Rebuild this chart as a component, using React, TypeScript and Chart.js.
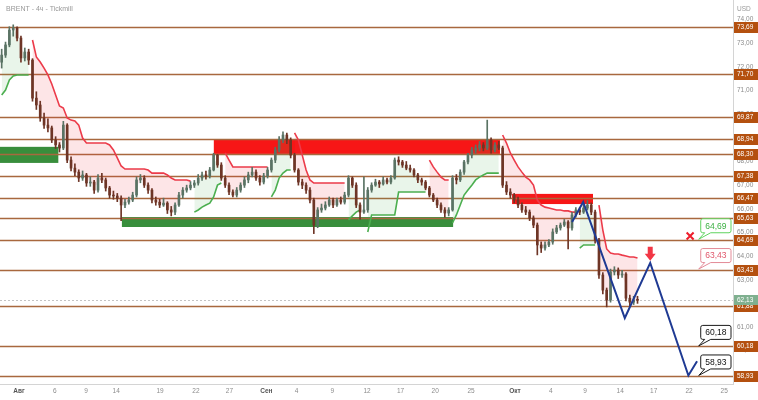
import React, { useEffect, useRef } from 'react';
import { Chart, registerables } from 'chart.js';

Chart.register(...registerables);

const FONT = '"Liberation Sans", Arial, sans-serif';
const TITLE = 'BRENT - 4ч - Tickmill';
const CURRENCY = 'USD';

// 3 bars per trading day, day 0 = 1 Aug
const FIRST_BAR_DAY = -1.5;
const BARS_PER_DAY = 3;

// [open, high, low, close]
const candles: number[][] = [
  [72.20, 72.75, 71.95, 72.50], [72.50, 73.05, 72.40, 72.93], [72.93, 73.70, 72.85, 73.56], [73.56, 73.78, 73.30, 73.65], [73.65, 73.70, 73.10, 73.22],
  [73.22, 73.30, 72.20, 72.38], [72.38, 72.80, 72.25, 72.63], [72.63, 72.75, 72.10, 72.29], [72.29, 72.35, 70.55, 70.68], [70.68, 70.95, 70.20, 70.39],
  [70.39, 70.55, 69.70, 69.84], [69.84, 70.05, 69.40, 69.54], [69.54, 69.80, 69.25, 69.42], [69.42, 69.50, 68.80, 68.91], [68.91, 69.05, 68.55, 68.70],
  [68.70, 68.80, 68.40, 68.57], [68.57, 69.70, 68.50, 69.54], [69.54, 69.60, 67.95, 68.06], [68.06, 68.20, 67.60, 67.72], [67.72, 67.90, 67.40, 67.55],
  [67.55, 67.65, 67.15, 67.30], [67.30, 67.60, 67.20, 67.43], [67.43, 67.50, 66.95, 67.09], [67.09, 67.35, 66.95, 67.13], [67.13, 67.20, 66.65, 66.79],
  [66.79, 67.45, 66.70, 67.30], [67.30, 67.50, 67.10, 67.22], [67.22, 67.30, 66.75, 66.88], [66.88, 66.95, 66.45, 66.58], [66.58, 66.75, 66.40, 66.54],
  [66.54, 66.65, 66.30, 66.45], [66.45, 66.55, 65.50, 66.16], [66.16, 66.40, 66.05, 66.28], [66.28, 66.50, 66.20, 66.37], [66.37, 66.70, 66.30, 66.58],
  [66.58, 67.35, 66.50, 67.22], [67.22, 67.45, 67.10, 67.30], [67.30, 67.40, 66.90, 67.00], [67.00, 67.10, 66.65, 66.79], [66.79, 66.85, 66.25, 66.37],
  [66.37, 66.50, 66.15, 66.28], [66.28, 66.40, 66.05, 66.16], [66.16, 66.45, 66.10, 66.24], [66.24, 66.30, 65.80, 65.95], [65.95, 66.10, 65.70, 65.86],
  [65.86, 66.25, 65.75, 66.16], [66.16, 66.70, 66.10, 66.58], [66.58, 66.90, 66.45, 66.79], [66.79, 67.00, 66.70, 66.88], [66.88, 67.15, 66.80, 67.00],
  [67.00, 67.20, 66.90, 67.09], [67.09, 67.45, 67.00, 67.30], [67.30, 67.55, 67.20, 67.43], [67.43, 67.60, 67.25, 67.39], [67.39, 67.75, 67.30, 67.64],
  [67.64, 68.35, 67.60, 68.27], [68.27, 68.30, 67.75, 67.85], [67.85, 67.95, 67.20, 67.30], [67.30, 67.40, 66.90, 67.00], [67.00, 67.10, 66.60, 66.71],
  [66.71, 66.80, 66.50, 66.58], [66.58, 66.90, 66.50, 66.79], [66.79, 67.10, 66.70, 67.00], [67.00, 67.35, 66.90, 67.22], [67.22, 67.55, 67.10, 67.43],
  [67.43, 67.75, 67.35, 67.55], [67.55, 67.65, 67.20, 67.30], [67.30, 67.40, 67.00, 67.13], [67.13, 67.50, 67.05, 67.39], [67.39, 67.75, 67.30, 67.64],
  [67.64, 68.15, 67.55, 68.06], [68.06, 68.60, 67.95, 68.49], [68.49, 69.05, 68.40, 68.91], [68.91, 69.25, 68.80, 69.12], [69.12, 69.20, 68.75, 68.91],
  [68.91, 69.00, 68.15, 68.27], [68.27, 68.35, 67.55, 67.64], [67.64, 67.70, 67.00, 67.13], [67.13, 67.25, 66.85, 67.00], [67.00, 67.10, 66.65, 66.79],
  [66.79, 66.90, 66.25, 66.37], [66.37, 66.45, 64.95, 65.31], [65.31, 66.05, 65.20, 65.95], [65.95, 66.20, 65.85, 66.03], [66.03, 66.30, 65.95, 66.16],
  [66.16, 66.50, 66.10, 66.37], [66.37, 66.45, 66.05, 66.16], [66.16, 66.45, 66.10, 66.37], [66.37, 66.50, 66.20, 66.28], [66.28, 66.70, 66.20, 66.58],
  [66.58, 67.40, 66.50, 67.30], [67.30, 67.35, 66.90, 67.00], [67.00, 67.10, 66.05, 66.16], [66.16, 66.25, 65.55, 65.86], [65.86, 67.35, 65.80, 65.95],
  [65.95, 66.90, 65.85, 66.79], [66.79, 67.10, 66.70, 67.00], [67.00, 67.25, 66.95, 67.13], [67.13, 67.20, 66.90, 67.05], [67.05, 67.35, 67.00, 67.22],
  [67.22, 67.30, 67.05, 67.13], [67.13, 67.40, 67.05, 67.30], [67.30, 68.15, 67.25, 68.06], [68.06, 68.20, 67.85, 67.98], [67.98, 68.05, 67.75, 67.85],
  [67.85, 68.00, 67.65, 67.72], [67.72, 67.85, 67.55, 67.64], [67.64, 67.70, 67.35, 67.43], [67.43, 67.50, 67.10, 67.22], [67.22, 67.30, 67.00, 67.13],
  [67.13, 67.20, 66.80, 66.88], [66.88, 66.95, 66.50, 66.58], [66.58, 66.65, 66.30, 66.37], [66.37, 66.45, 66.05, 66.16], [66.16, 66.25, 65.85, 65.95],
  [65.95, 66.05, 65.65, 65.82], [65.82, 66.05, 65.70, 65.95], [65.95, 67.40, 65.90, 67.30], [67.30, 67.45, 67.05, 67.22], [67.22, 67.65, 67.15, 67.55],
  [67.55, 68.05, 67.45, 67.98], [67.98, 68.35, 67.90, 68.27], [68.27, 68.60, 68.15, 68.49], [68.49, 68.70, 68.35, 68.57], [68.57, 68.85, 68.45, 68.70],
  [68.70, 68.80, 68.45, 68.57], [68.57, 69.75, 68.50, 68.91], [68.91, 69.00, 68.35, 68.49], [68.49, 68.80, 68.40, 68.70], [68.70, 68.85, 68.50, 68.57],
  [68.57, 68.65, 66.90, 67.00], [67.00, 67.15, 66.60, 66.71], [66.71, 66.85, 66.45, 66.58], [66.58, 66.65, 66.25, 66.37], [66.37, 66.50, 66.05, 66.16],
  [66.16, 66.25, 65.85, 65.95], [65.95, 66.10, 65.75, 65.86], [65.86, 65.95, 65.50, 65.61], [65.61, 65.70, 65.20, 65.31], [65.31, 65.40, 64.05, 64.47],
  [64.47, 64.60, 64.15, 64.34], [64.34, 64.60, 64.25, 64.47], [64.47, 64.70, 64.40, 64.59], [64.59, 65.15, 64.50, 65.02], [65.02, 65.30, 64.95, 65.19],
  [65.19, 65.40, 65.10, 65.31], [65.31, 65.55, 65.25, 65.44], [65.44, 65.50, 64.30, 65.19], [65.19, 65.85, 65.10, 65.74], [65.74, 66.05, 65.65, 65.95],
  [65.95, 66.05, 65.75, 65.86], [65.86, 66.15, 65.80, 66.03], [66.03, 66.35, 65.95, 66.16], [66.16, 66.25, 65.75, 65.86], [65.86, 65.95, 64.55, 64.68],
  [64.68, 64.75, 63.05, 63.20], [63.20, 63.30, 62.40, 62.56], [62.56, 62.65, 61.85, 62.14], [62.14, 63.45, 62.05, 63.33], [63.33, 63.55, 63.20, 63.41],
  [63.41, 63.50, 63.05, 63.20], [63.20, 63.40, 63.10, 63.24], [63.24, 63.30, 62.10, 62.22], [62.22, 62.35, 61.90, 62.05], [62.05, 62.30, 61.95, 62.14],
  [62.14, 62.30, 62.00, 62.13],
];

// Supertrend segments (start = bar index)
const stSegments: { trend: 'up' | 'down'; start: number; values: number[] }[] = [
  { trend: 'up', start: 0, values: [70.81, 71.02, 71.45, 71.62, 71.66, 71.66, 71.66, 71.66] },
  { trend: 'down', start: 8, values: [73.14, 72.42, 72.21, 71.95, 71.66, 71.28, 70.81, 70.35, 70.26, 69.84, 69.75, 69.71, 69.54, 68.99, 68.78, 68.78, 68.78, 68.78, 68.78, 68.78, 68.70, 68.49, 68.15, 67.81, 67.68, 67.68, 67.68, 67.68, 67.68, 67.68, 67.64, 67.51, 67.51, 67.51, 67.51, 67.43, 67.30, 67.22, 67.22, 67.22, 67.22, 67.17] },
  { trend: 'up', start: 50, values: [65.86, 65.95, 66.07, 66.16, 66.24, 66.50, 67.00, 67.09] },
  { trend: 'down', start: 58, values: [68.36, 68.06, 67.77, 67.77, 67.77, 67.77, 67.77, 67.77, 67.77, 67.77, 67.77, 67.77] },
  { trend: 'up', start: 70, values: [66.50, 66.79, 67.30, 67.51, 67.64, 67.64] },
  { trend: 'down', start: 76, values: [69.21, 68.91, 68.27, 67.64, 67.22, 67.09, 67.09, 67.09, 67.09, 67.09, 67.09, 67.09, 67.09, 67.09] },
  { trend: 'up', start: 90, values: [65.53, 65.70, 65.86, 65.95] },
  { trend: 'up', start: 95, values: [65.02, 65.74, 65.74, 65.74, 65.74, 65.74, 65.74, 65.74, 66.71, 66.71, 66.71, 66.71, 66.71, 66.71, 66.71, 66.71] },
  { trend: 'down', start: 111, values: [68.06, 67.77, 67.55, 67.34, 67.22, 67.22] },
  { trend: 'up', start: 117, values: [65.40, 65.74, 66.16, 66.58, 66.79, 67.00, 67.22, 67.34, 67.43, 67.51, 67.51, 67.51, 67.51] },
  { trend: 'down', start: 130, values: [69.12, 68.78, 68.36, 68.06, 67.77, 67.55, 67.34, 67.22, 67.00, 66.37, 66.16, 66.07, 66.03, 65.99, 65.95, 65.95, 65.91, 65.91, 65.86, 65.86] },
  { trend: 'up', start: 150, values: [64.34, 64.47, 64.47, 64.47, 64.47] },
  { trend: 'down', start: 155, values: [66.16, 65.10, 64.30, 64.13, 64.09, 64.09, 64.04, 64.00, 63.96, 63.96, 63.92] },
];

const levels = [73.69, 71.70, 69.87, 68.94, 68.30, 67.38, 66.47, 65.63, 64.69, 63.43, 61.88, 60.18, 58.93];
const lastPrice = 62.13;

// zones: [startDay, endDay], [topPrice, bottomPrice]
const zoneDays = [[-1.7, 3.4], [16.85, 41.6], [8.9, 37.55], [42.65, 49.65]];
const zonePrices = [[68.62, 67.94], [68.94, 68.32], [65.65, 65.23], [66.63, 66.20]];
const zoneKinds = ['support', 'resistance', 'support', 'resistance'];

// forecast path [day, price]
const forecastPath = [[47.84, 65.44], [48.8, 66.29], [52.4, 61.38], [54.6, 63.71], [57.9, 58.95], [58.65, 59.55]];
const sellArrow = { day: 54.6, price: 63.8 };
const cancelMark = { day: 58.05, price: 64.85 };

const callouts = [64.69, 63.43, 60.18, 58.93];
const calloutKinds = ['buy', 'sell', 'target', 'target'];

const xTickDays = [0, 3.1, 5.8, 8.4, 12.2, 15.3, 18.2, 21.4, 24.0, 27.1, 30.1, 33.0, 36.0, 39.1, 42.9, 46.0, 48.96, 52.0, 54.9, 57.96, 61.0];
const xTickLabels = ['Авг', '6', '9', '14', '19', '22', '27', 'Сен', '4', '9', '12', '17', '20', '25', 'Окт', '4', '9', '14', '17', '22', '25'];
const monthLabels = ['Авг', 'Сен', 'Окт'];
const yTickValues = [59, 60, 61, 62, 63, 64, 65, 66, 67, 68, 69, 70, 71, 72, 73, 74];

const X_MIN = -1.645;
const X_MAX = 61.76;
const Y_MIN = 58.59;
const Y_MAX = 74.83;

const fmt = (v: number) => v.toFixed(2).replace('.', ',');
const dayOf = (i: number) => FIRST_BAR_DAY + i / BARS_PER_DAY;

const overlay = {
  id: 'overlay',
  beforeDatasetsDraw(chart: any) {
    const { ctx, chartArea: a, scales } = chart;
    const x = scales.x, y = scales.y;
    ctx.save();
    ctx.beginPath();
    ctx.rect(a.left, a.top, a.right - a.left, a.bottom - a.top);
    ctx.clip();
    zoneDays.forEach(([d0, d1], k) => {
      const [p0, p1] = zonePrices[k];
      const x0 = x.getPixelForValue(d0), x1 = x.getPixelForValue(d1);
      const y0 = y.getPixelForValue(p0), y1 = y.getPixelForValue(p1);
      ctx.fillStyle = zoneKinds[k] === 'support' ? '#388e3c' : '#f71616';
      ctx.fillRect(x0, y0, x1 - x0, y1 - y0);
    });
    const lp = Math.round(y.getPixelForValue(lastPrice)) + 0.5;
    ctx.strokeStyle = '#c4c4c4';
    ctx.lineWidth = 1;
    ctx.setLineDash([2, 2]);
    ctx.beginPath();
    ctx.moveTo(a.left, lp);
    ctx.lineTo(a.right, lp);
    ctx.stroke();
    ctx.setLineDash([]);
    ctx.strokeStyle = '#a8683e';
    ctx.lineWidth = 1.3;
    levels.forEach((v) => {
      const py = Math.round(y.getPixelForValue(v)) + 0.5;
      ctx.beginPath();
      ctx.moveTo(a.left, py);
      ctx.lineTo(a.right, py);
      ctx.stroke();
    });
    ctx.restore();
  },
  afterDraw(chart: any) {
    const { ctx, chartArea: a, scales, width } = chart;
    const x = scales.x, y = scales.y;
    ctx.save();
    // axis price labels
    ctx.font = `6.5px ${FONT}`;
    ctx.textBaseline = 'middle';
    ctx.textAlign = 'left';
    levels.forEach((v) => {
      const py = Math.round(y.getPixelForValue(v));
      ctx.fillStyle = '#b4500f';
      ctx.fillRect(a.right + 1, py - 5, width - a.right - 1, 11);
      ctx.fillStyle = '#ffffff';
      ctx.fillText(fmt(v), a.right + 4, py + 0.5);
    });
    const lpy = Math.round(y.getPixelForValue(lastPrice));
    ctx.fillStyle = '#7fb08f';
    ctx.fillRect(a.right + 1, lpy - 5, width - a.right - 1, 10);
    ctx.fillStyle = '#ffffff';
    ctx.fillText(fmt(lastPrice), a.right + 4, lpy);

    // callouts
    ctx.font = `8.5px ${FONT}`;
    callouts.forEach((v, k) => {
      const kind = calloutKinds[k];
      const border = kind === 'buy' ? '#5fd35f' : kind === 'sell' ? '#e38a97' : '#1a1a1a';
      const color = kind === 'buy' ? '#3cb043' : kind === 'sell' ? '#e0566a' : '#111111';
      const ly = y.getPixelForValue(v);
      const txt = fmt(v);
      const w = ctx.measureText(txt).width + 9;
      const h = 14;
      const R = a.right - 2;
      const l = R - w;
      const B = ly - 7;
      const t = B - h;
      const r = 2;
      const tipX = l - 2, tipY = ly - 0.5;
      ctx.beginPath();
      ctx.moveTo(l + r, t);
      ctx.lineTo(R - r, t);
      ctx.arcTo(R, t, R, t + r, r);
      ctx.lineTo(R, B - r);
      ctx.arcTo(R, B, R - r, B, r);
      ctx.lineTo(l + 10, B);
      ctx.lineTo(tipX, tipY);
      ctx.lineTo(l + 4, B);
      ctx.lineTo(l + r, B);
      ctx.arcTo(l, B, l, B - r, r);
      ctx.lineTo(l, t + r);
      ctx.arcTo(l, t, l + r, t, r);
      ctx.closePath();
      ctx.fillStyle = '#ffffff';
      ctx.fill();
      ctx.strokeStyle = border;
      ctx.lineWidth = 1;
      ctx.stroke();
      ctx.fillStyle = color;
      ctx.textAlign = 'center';
      ctx.fillText(txt, (l + R) / 2, (t + B) / 2 + 0.5);
    });

    // sell arrow
    const ax = x.getPixelForValue(sellArrow.day);
    const ay = y.getPixelForValue(sellArrow.price);
    ctx.fillStyle = '#f23645';
    ctx.beginPath();
    ctx.moveTo(ax, ay);
    ctx.lineTo(ax - 5.5, ay - 7);
    ctx.lineTo(ax - 2.5, ay - 7);
    ctx.lineTo(ax - 2.5, ay - 14);
    ctx.lineTo(ax + 2.5, ay - 14);
    ctx.lineTo(ax + 2.5, ay - 7);
    ctx.lineTo(ax + 5.5, ay - 7);
    ctx.closePath();
    ctx.fill();

    // cancel cross
    const cx = x.getPixelForValue(cancelMark.day);
    const cy = y.getPixelForValue(cancelMark.price);
    ctx.strokeStyle = '#ee1d2b';
    ctx.lineWidth = 2;
    ctx.beginPath();
    ctx.moveTo(cx - 3.5, cy - 3.5);
    ctx.lineTo(cx + 3.5, cy + 3.5);
    ctx.moveTo(cx + 3.5, cy - 3.5);
    ctx.lineTo(cx - 3.5, cy + 3.5);
    ctx.stroke();

    // title and currency
    ctx.textAlign = 'left';
    ctx.font = `7px ${FONT}`;
    ctx.fillStyle = '#999999';
    ctx.fillText(TITLE, 6, 9);
    ctx.font = `6.5px ${FONT}`;
    ctx.fillText(CURRENCY, a.right + 4, 9);
    ctx.restore();
  },
};

export default function App() {
  const ref = useRef<HTMLCanvasElement>(null);
  useEffect(() => {
    document.body.style.margin = '0';
    const up = '#5a7364';
    const down = '#6e3526';
    const colors = candles.map((c) => (c[3] >= c[0] ? up : down));
    const datasets: any[] = [];
    stSegments.forEach((seg) => {
      const midIdx = datasets.length;
      datasets.push({
        type: 'line',
        data: seg.values.map((_, k) => {
          const c = candles[seg.start + k];
          return { x: dayOf(seg.start + k), y: (c[0] + c[3]) / 2 };
        }),
        borderWidth: 0,
        borderColor: 'rgba(0,0,0,0)',
        pointRadius: 0,
        fill: false,
        order: 4,
      });
      const isUp = seg.trend === 'up';
      const fillColor = isUp ? 'rgba(76,175,80,0.12)' : 'rgba(242,54,69,0.13)';
      datasets.push({
        type: 'line',
        data: seg.values.map((v, k) => ({ x: dayOf(seg.start + k), y: v })),
        borderColor: isUp ? '#4caf50' : '#ec3b4a',
        borderWidth: 1.6,
        pointRadius: 0,
        tension: 0,
        fill: { target: midIdx, above: fillColor, below: fillColor },
        order: 3,
      });
    });
    datasets.push({
      type: 'bar',
      data: candles.map((c, i) => ({ x: dayOf(i), y: [c[2], c[1]] })),
      backgroundColor: colors,
      barThickness: 1,
      grouped: false,
      order: 1,
    });
    datasets.push({
      type: 'bar',
      data: candles.map((c, i) => ({ x: dayOf(i), y: [c[0], c[3]] })),
      backgroundColor: colors,
      barThickness: 2,
      minBarLength: 1,
      grouped: false,
      order: 0,
    });
    datasets.push({
      type: 'line',
      data: forecastPath.map(([d, p]) => ({ x: d, y: p })),
      borderColor: '#1f3a93',
      borderWidth: 2,
      pointRadius: 0,
      tension: 0,
      fill: false,
      order: -1,
    });

    const chart = new Chart(ref.current as HTMLCanvasElement, {
      type: 'bar',
      data: { datasets },
      options: {
        responsive: false,
        animation: false,
        devicePixelRatio: 1,
        layout: { padding: 0 },
        plugins: { legend: { display: false }, tooltip: { enabled: false }, title: { display: false } },
        scales: {
          x: {
            type: 'linear',
            min: X_MIN,
            max: X_MAX,
            offset: false,
            grid: { display: false, drawTicks: false },
            border: { display: true, color: '#d4d4d4' },
            afterBuildTicks: (s: any) => {
              s.ticks = xTickDays.map((v) => ({ value: v }));
            },
            afterFit: (s: any) => {
              s.height = 16;
              s.paddingLeft = 0;
              s.paddingRight = 0;
            },
            ticks: {
              autoSkip: false,
              maxRotation: 0,
              padding: 3,
              callback: (_v: any, i: number) => xTickLabels[i],
              color: (c: any) => (monthLabels.includes(xTickLabels[c.index]) ? '#555555' : '#8c8c8c'),
              font: (c: any) => ({
                family: FONT,
                size: 6.5,
                weight: monthLabels.includes(xTickLabels[c.index]) ? 'bold' : 'normal',
              }),
            },
          },
          y: {
            type: 'linear',
            position: 'right',
            min: Y_MIN,
            max: Y_MAX,
            grid: { display: false, drawTicks: false },
            border: { display: true, color: '#d4d4d4' },
            afterBuildTicks: (s: any) => {
              s.ticks = yTickValues.map((v) => ({ value: v }));
            },
            afterFit: (s: any) => {
              s.width = 25;
              s.paddingTop = 0;
              s.paddingBottom = 0;
            },
            ticks: {
              padding: 4,
              color: '#8c8c8c',
              font: { family: FONT, size: 6.5 },
              callback: (v: any) => fmt(Number(v)),
            },
          },
        },
      } as any,
      plugins: [overlay],
    });
    return () => chart.destroy();
  }, []);
  return <canvas ref={ref} width={758} height={400} style={{ display: 'block' }} />;
}
